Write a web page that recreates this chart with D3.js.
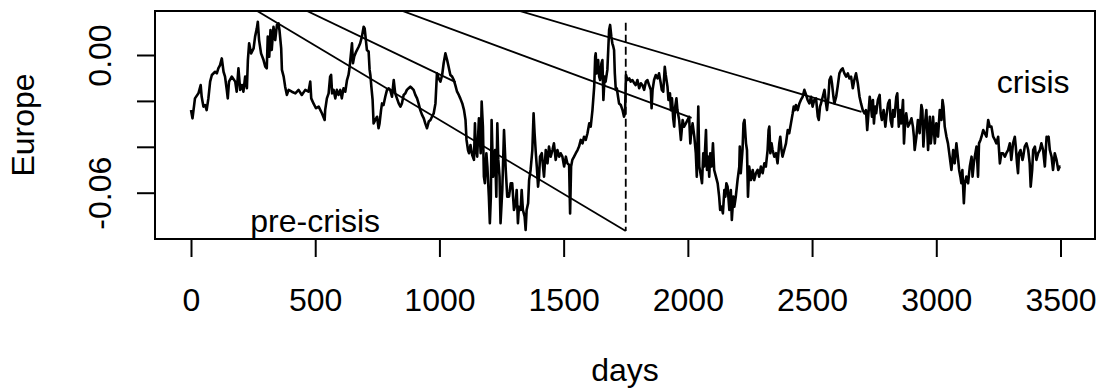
<!DOCTYPE html>
<html>
<head>
<meta charset="utf-8">
<script src="https://cdn.jsdelivr.net/npm/d3@7"></script>
<style>
  html, body { margin: 0; padding: 0; background: #ffffff; }
  svg { display: block; }
  text { font-family: "Liberation Sans", Arial, Helvetica, sans-serif; font-size: 32px; fill: #000; }
</style>
</head>
<body>
<svg id="chart" width="1102" height="392"></svg>
<script>
// European index series: [day, value]
const europe = [
  [0,-0.0240],[6,-0.0276],[16,-0.0189],[30,-0.0167],[39,-0.0131],[43,-0.0182],[50,-0.0225],[57,-0.0218],[63,-0.0240],[70,-0.0189],
  [77,-0.0116],[84,-0.0087],[97,-0.0073],[104,-0.0080],[110,-0.0058],[117,-0.0044],[124,-0.0015],[131,-0.0073],[137,-0.0094],[144,-0.0152],
  [148,-0.0189],[153,-0.0116],[164,-0.0094],[178,-0.0116],[184,-0.0160],[191,-0.0058],[198,-0.0152],[205,-0.0131],[211,-0.0160],[218,-0.0094],
  [225,-0.0145],[229,-0.0022],[234,0.0051],[242,0.0007],[252,0.0029],[258,0.0080],[265,0.0116],[269,0.0145],[274,0.0065],[282,0.0007],
  [292,-0.0022],[299,-0.0051],[305,-0.0058],[309,0.0080],[315,-0.0007],[320,0.0109],[325,0.0022],[332,0.0123],[339,0.0065],[346,0.0131],
  [352,0.0138],[356,0.0109],[363,0.0029],[366,-0.0065],[373,-0.0094],[379,-0.0138],[386,-0.0174],[393,-0.0152],[406,-0.0160],[420,-0.0167],
  [433,-0.0152],[446,-0.0174],[460,-0.0152],[473,-0.0160],[480,-0.0116],[484,-0.0189],[493,-0.0211],[503,-0.0232],[514,-0.0225],[527,-0.0254],
  [538,-0.0283],[540,-0.0240],[547,-0.0189],[554,-0.0167],[560,-0.0094],[564,-0.0087],[568,-0.0167],[574,-0.0152],[581,-0.0189],[587,-0.0152],
  [594,-0.0174],[601,-0.0152],[607,-0.0189],[614,-0.0145],[621,-0.0160],[628,-0.0109],[634,-0.0087],[638,-0.0058],[644,0.0007],[648,0.0051],
  [652,-0.0036],[657,-0.0007],[665,0.0015],[675,0.0036],[681,0.0051],[688,0.0080],[695,0.0123],[699,0.0116],[704,0.0065],[708,0.0022],
  [715,0.0015],[719,-0.0065],[722,-0.0087],[726,-0.0138],[731,-0.0196],[735,-0.0298],[742,-0.0283],[749,-0.0269],[755,-0.0319],[759,-0.0298],
  [765,-0.0240],[769,-0.0211],[775,-0.0218],[782,-0.0182],[789,-0.0152],[796,-0.0145],[802,-0.0152],[809,-0.0182],[816,-0.0109],[822,-0.0167],
  [829,-0.0189],[836,-0.0211],[843,-0.0225],[849,-0.0211],[856,-0.0174],[863,-0.0167],[869,-0.0152],[876,-0.0145],[883,-0.0138],[890,-0.0145],
  [896,-0.0152],[903,-0.0174],[910,-0.0189],[916,-0.0211],[923,-0.0240],[930,-0.0261],[937,-0.0276],[943,-0.0298],[950,-0.0319],[957,-0.0290],
  [964,-0.0283],[970,-0.0269],[977,-0.0254],[984,-0.0211],[990,-0.0080],[997,-0.0102],[1004,-0.0116],[1011,-0.0087],[1017,-0.0036],[1024,0.0007],
  [1031,-0.0022],[1037,-0.0051],[1044,-0.0087],[1051,-0.0094],[1058,-0.0109],[1064,-0.0131],[1071,-0.0160],[1078,-0.0174],[1084,-0.0189],[1092,-0.0211],
  [1099,-0.0240],[1105,-0.0283],[1109,-0.0370],[1115,-0.0414],[1119,-0.0428],[1125,-0.0392],[1132,-0.0436],[1139,-0.0457],[1143,-0.0298],[1146,-0.0399],
  [1152,-0.0443],[1159,-0.0276],[1166,-0.0428],[1170,-0.0203],[1175,-0.0312],[1179,-0.0530],[1183,-0.0559],[1189,-0.0428],[1193,-0.0486],[1199,-0.0617],
  [1203,-0.0733],[1207,-0.0617],[1210,-0.0283],[1216,-0.0530],[1224,-0.0414],[1229,-0.0617],[1233,-0.0298],[1237,-0.0457],[1242,-0.0530],[1246,-0.0733],
  [1253,-0.0588],[1260,-0.0327],[1267,-0.0501],[1273,-0.0617],[1280,-0.0617],[1287,-0.0559],[1293,-0.0559],[1300,-0.0675],[1307,-0.0646],[1311,-0.0588],
  [1316,-0.0733],[1320,-0.0661],[1327,-0.0675],[1331,-0.0588],[1336,-0.0675],[1343,-0.0704],[1347,-0.0762],[1351,-0.0675],[1357,-0.0646],[1361,-0.0545],
  [1367,-0.0501],[1374,-0.0414],[1379,-0.0254],[1383,-0.0341],[1388,-0.0428],[1392,-0.0486],[1397,-0.0574],[1401,-0.0530],[1405,-0.0443],[1412,-0.0428],
  [1417,-0.0486],[1421,-0.0530],[1428,-0.0414],[1435,-0.0472],[1441,-0.0399],[1448,-0.0443],[1455,-0.0414],[1461,-0.0385],[1468,-0.0457],[1475,-0.0414],
  [1482,-0.0443],[1488,-0.0428],[1495,-0.0443],[1502,-0.0486],[1509,-0.0443],[1515,-0.0472],[1522,-0.0479],[1526,-0.0690],[1530,-0.0486],[1535,-0.0457],
  [1542,-0.0443],[1549,-0.0428],[1556,-0.0414],[1562,-0.0399],[1569,-0.0370],[1576,-0.0385],[1582,-0.0356],[1589,-0.0370],[1596,-0.0341],[1603,-0.0298],
  [1609,-0.0312],[1616,-0.0240],[1623,-0.0138],[1627,-0.0007],[1629,0.0007],[1633,-0.0080],[1639,-0.0022],[1643,-0.0094],[1647,-0.0109],[1652,-0.0036],
  [1656,-0.0022],[1660,-0.0196],[1665,-0.0094],[1669,-0.0116],[1676,-0.0065],[1683,0.0109],[1687,0.0131],[1692,0.0080],[1696,0.0051],[1700,0.0036],
  [1703,0.0022],[1706,-0.0080],[1710,-0.0152],[1714,-0.0145],[1719,-0.0182],[1723,-0.0211],[1730,-0.0218],[1737,-0.0240],[1743,-0.0269],[1747,-0.0254],
  [1751,-0.0087],[1757,-0.0109],[1764,-0.0102],[1770,-0.0116],[1777,-0.0109],[1784,-0.0123],[1790,-0.0131],[1797,-0.0109],[1804,-0.0145],[1811,-0.0123],
  [1817,-0.0131],[1824,-0.0152],[1831,-0.0116],[1837,-0.0109],[1844,-0.0131],[1851,-0.0152],[1854,-0.0232],[1858,-0.0152],[1864,-0.0109],[1871,-0.0087],
  [1878,-0.0102],[1884,-0.0080],[1891,-0.0123],[1895,-0.0152],[1901,-0.0160],[1907,-0.0051],[1911,-0.0087],[1918,-0.0138],[1922,-0.0196],[1928,-0.0167],
  [1932,-0.0240],[1936,-0.0189],[1941,-0.0276],[1945,-0.0312],[1949,-0.0225],[1954,-0.0189],[1958,-0.0240],[1965,-0.0283],[1972,-0.0370],[1979,-0.0283],
  [1985,-0.0312],[1992,-0.0298],[1999,-0.0283],[2005,-0.0269],[2010,-0.0385],[2012,-0.0356],[2019,-0.0298],[2026,-0.0356],[2032,-0.0428],[2036,-0.0530],
  [2042,-0.0225],[2046,-0.0486],[2053,-0.0530],[2057,-0.0559],[2062,-0.0428],[2066,-0.0486],[2073,-0.0327],[2077,-0.0501],[2082,-0.0443],[2086,-0.0530],
  [2090,-0.0428],[2096,-0.0486],[2101,-0.0385],[2106,-0.0501],[2113,-0.0530],[2120,-0.0559],[2126,-0.0617],[2130,-0.0675],[2136,-0.0661],[2141,-0.0690],
  [2147,-0.0588],[2151,-0.0617],[2155,-0.0559],[2160,-0.0574],[2167,-0.0675],[2173,-0.0588],[2177,-0.0719],[2183,-0.0617],[2187,-0.0661],[2193,-0.0617],
  [2200,-0.0545],[2207,-0.0486],[2209,-0.0399],[2213,-0.0515],[2220,-0.0414],[2224,-0.0298],[2228,-0.0283],[2234,-0.0385],[2238,-0.0414],[2242,-0.0617],
  [2247,-0.0486],[2254,-0.0545],[2261,-0.0501],[2267,-0.0545],[2274,-0.0515],[2281,-0.0501],[2287,-0.0530],[2294,-0.0486],[2301,-0.0515],[2308,-0.0472],
  [2314,-0.0486],[2321,-0.0414],[2325,-0.0327],[2328,-0.0312],[2332,-0.0428],[2337,-0.0385],[2341,-0.0414],[2348,-0.0443],[2355,-0.0428],[2361,-0.0472],
  [2368,-0.0385],[2372,-0.0356],[2377,-0.0414],[2381,-0.0443],[2388,-0.0414],[2395,-0.0385],[2402,-0.0327],[2408,-0.0341],[2415,-0.0298],[2422,-0.0254],
  [2426,-0.0225],[2431,-0.0240],[2435,-0.0218],[2442,-0.0240],[2449,-0.0211],[2455,-0.0196],[2462,-0.0182],[2469,-0.0152],[2476,-0.0174],[2482,-0.0196],
  [2489,-0.0211],[2496,-0.0182],[2502,-0.0225],[2509,-0.0196],[2516,-0.0189],[2523,-0.0269],[2527,-0.0283],[2532,-0.0225],[2536,-0.0211],[2543,-0.0182],
  [2550,-0.0152],[2556,-0.0211],[2560,-0.0240],[2566,-0.0182],[2570,-0.0109],[2576,-0.0094],[2580,-0.0123],[2586,-0.0182],[2590,-0.0211],[2597,-0.0182],
  [2603,-0.0138],[2610,-0.0080],[2617,-0.0065],[2623,-0.0058],[2630,-0.0080],[2637,-0.0094],[2644,-0.0080],[2650,-0.0102],[2657,-0.0094],[2664,-0.0145],
  [2670,-0.0109],[2677,-0.0080],[2684,-0.0123],[2691,-0.0182],[2697,-0.0211],[2704,-0.0240],[2711,-0.0254],[2717,-0.0240],[2722,-0.0327],[2728,-0.0240],
  [2732,-0.0182],[2736,-0.0211],[2741,-0.0269],[2745,-0.0196],[2749,-0.0298],[2754,-0.0225],[2758,-0.0254],[2765,-0.0196],[2772,-0.0174],[2776,-0.0254],
  [2781,-0.0283],[2788,-0.0240],[2795,-0.0312],[2799,-0.0269],[2806,-0.0211],[2812,-0.0196],[2816,-0.0283],[2822,-0.0312],[2826,-0.0240],[2832,-0.0269],
  [2839,-0.0182],[2843,-0.0167],[2849,-0.0312],[2854,-0.0240],[2859,-0.0298],[2866,-0.0196],[2870,-0.0385],[2875,-0.0283],[2879,-0.0254],[2886,-0.0312],
  [2893,-0.0298],[2900,-0.0276],[2906,-0.0312],[2910,-0.0356],[2913,-0.0414],[2920,-0.0356],[2926,-0.0283],[2933,-0.0341],[2940,-0.0218],[2944,-0.0240],
  [2948,-0.0399],[2953,-0.0312],[2960,-0.0240],[2967,-0.0414],[2974,-0.0269],[2978,-0.0385],[2983,-0.0327],[2987,-0.0269],[2994,-0.0385],[3000,-0.0298],
  [3007,-0.0356],[3014,-0.0240],[3021,-0.0283],[3025,-0.0196],[3029,-0.0225],[3034,-0.0312],[3041,-0.0356],[3047,-0.0385],[3054,-0.0443],[3061,-0.0501],
  [3068,-0.0414],[3074,-0.0472],[3081,-0.0385],[3088,-0.0457],[3092,-0.0501],[3097,-0.0530],[3101,-0.0559],[3105,-0.0501],[3111,-0.0646],[3115,-0.0559],
  [3121,-0.0530],[3128,-0.0559],[3135,-0.0486],[3142,-0.0443],[3146,-0.0530],[3151,-0.0472],[3155,-0.0443],[3162,-0.0399],[3168,-0.0530],[3172,-0.0385],
  [3178,-0.0370],[3182,-0.0356],[3189,-0.0327],[3195,-0.0341],[3202,-0.0356],[3209,-0.0283],[3215,-0.0312],[3222,-0.0312],[3229,-0.0356],[3236,-0.0370],
  [3242,-0.0385],[3249,-0.0356],[3256,-0.0472],[3262,-0.0428],[3269,-0.0428],[3276,-0.0443],[3282,-0.0428],[3289,-0.0414],[3296,-0.0385],[3302,-0.0457],
  [3309,-0.0385],[3316,-0.0356],[3320,-0.0399],[3325,-0.0472],[3329,-0.0515],[3333,-0.0428],[3339,-0.0414],[3347,-0.0457],[3350,-0.0443],[3356,-0.0399],
  [3363,-0.0385],[3370,-0.0414],[3376,-0.0472],[3380,-0.0574],[3386,-0.0501],[3390,-0.0414],[3397,-0.0399],[3403,-0.0457],[3410,-0.0428],[3417,-0.0414],
  [3423,-0.0385],[3430,-0.0414],[3437,-0.0486],[3444,-0.0356],[3448,-0.0370],[3452,-0.0356],[3457,-0.0414],[3464,-0.0443],[3470,-0.0501],[3477,-0.0428],
  [3484,-0.0457],[3491,-0.0501],[3497,-0.0486],[3500,-0.0486]
];

// Axis ticks
const xTicks = [0, 500, 1000, 1500, 2000, 2500, 3000, 3500];
const yTicks = [-0.06, -0.04, -0.02, 0.00];
const yTickLabels = ["-0.06", "", "", "0.00"];

// Trend segments: [startDay, startValue], [endDay, endValue]
const preCrisisTrendA = [[0, 0.0364], [1750, -0.0767]];
const preCrisisTrendB = [[0, 0.0434], [1065, -0.0118]];
const crisisTrendA = [[0, 0.0533], [2015, -0.0274]];
const crisisTrendB = [[0, 0.0615], [2699, -0.0248]];
const trendSegments = [preCrisisTrendA, preCrisisTrendB, crisisTrendA, crisisTrendB];

// Start of the crisis period, marked by a dashed vertical line
const crisisStartDay = 1750;
const crisisMarkerValues = [0.0141, -0.0767];

// Period labels (day, baseline value)
const periodLabels = ["pre-crisis", "crisis"];
const periodLabelDays = [500, 3390];
const periodLabelValues = [-0.0770, -0.0167];

const svg = d3.select("#chart");
const plot = { left: 155, right: 1095, top: 11, bottom: 239 };

const x = d3.scaleLinear().domain([0, 3500]).range([191, 1060.5]);
const y = d3.scaleLinear().domain([-0.08017, 0.01917]).range([plot.bottom, plot.top]);

svg.append("defs").append("clipPath").attr("id", "plot-clip")
  .append("rect")
  .attr("x", plot.left).attr("y", plot.top)
  .attr("width", plot.right - plot.left).attr("height", plot.bottom - plot.top);

const inner = svg.append("g").attr("clip-path", "url(#plot-clip)");

// Series
const seriesLine = d3.line()
  .x(d => x(d[0]))
  .y(d => y(d[1]));

inner.append("path")
  .datum(europe)
  .attr("d", seriesLine)
  .attr("fill", "none")
  .attr("stroke", "#000")
  .attr("stroke-width", 2.6)
  .attr("stroke-linejoin", "round");

// Trend segments
inner.selectAll("path.trend")
  .data(trendSegments)
  .join("path")
  .attr("class", "trend")
  .attr("d", seriesLine)
  .attr("fill", "none")
  .attr("stroke", "#000")
  .attr("stroke-width", 1.8);

// Crisis marker
inner.append("line")
  .attr("x1", x(crisisStartDay)).attr("x2", x(crisisStartDay))
  .attr("y1", y(crisisMarkerValues[0])).attr("y2", y(crisisMarkerValues[1]))
  .attr("stroke", "#000")
  .attr("stroke-width", 1.8)
  .attr("stroke-dasharray", "8,4");

// Period labels
svg.selectAll("text.period")
  .data(periodLabels)
  .join("text")
  .attr("class", "period")
  .attr("x", (d, i) => x(periodLabelDays[i]))
  .attr("y", (d, i) => y(periodLabelValues[i]))
  .attr("text-anchor", "middle")
  .text(d => d);

// Frame
svg.append("rect")
  .attr("x", plot.left).attr("y", plot.top)
  .attr("width", plot.right - plot.left).attr("height", plot.bottom - plot.top)
  .attr("fill", "none")
  .attr("stroke", "#000")
  .attr("stroke-width", 2);

// Bottom axis
const xAxis = svg.append("g")
  .attr("transform", `translate(0,${plot.bottom})`)
  .call(d3.axisBottom(x).tickValues(xTicks).tickSize(18).tickFormat(d3.format("d")));
xAxis.select(".domain").remove();
xAxis.selectAll(".tick line").attr("stroke", "#000").attr("stroke-width", 2);
xAxis.selectAll(".tick text")
  .attr("y", 72).attr("dy", null)
  .attr("fill", "#000")
  .style("font-size", "32px")
  .style("font-family", "'Liberation Sans', Arial, Helvetica, sans-serif");

// Left axis
const yAxis = svg.append("g")
  .attr("transform", `translate(${plot.left},0)`)
  .call(d3.axisLeft(y).tickValues(yTicks).tickSize(18)
    .tickFormat((d, i) => yTickLabels[i]));
yAxis.select(".domain").remove();
yAxis.selectAll(".tick line").attr("stroke", "#000").attr("stroke-width", 2);
yAxis.selectAll(".tick text")
  .attr("x", 0).attr("y", -44).attr("dy", null)
  .attr("transform", "rotate(-90)")
  .attr("text-anchor", "middle")
  .attr("fill", "#000")
  .style("font-size", "32px")
  .style("font-family", "'Liberation Sans', Arial, Helvetica, sans-serif");

// Axis titles
svg.append("text")
  .attr("x", (plot.left + plot.right) / 2)
  .attr("y", 381)
  .attr("text-anchor", "middle")
  .text("days");

svg.append("text")
  .attr("transform", `translate(34,${(plot.top + plot.bottom) / 2}) rotate(-90)`)
  .attr("text-anchor", "middle")
  .text("Europe");
</script>
</body>
</html>
